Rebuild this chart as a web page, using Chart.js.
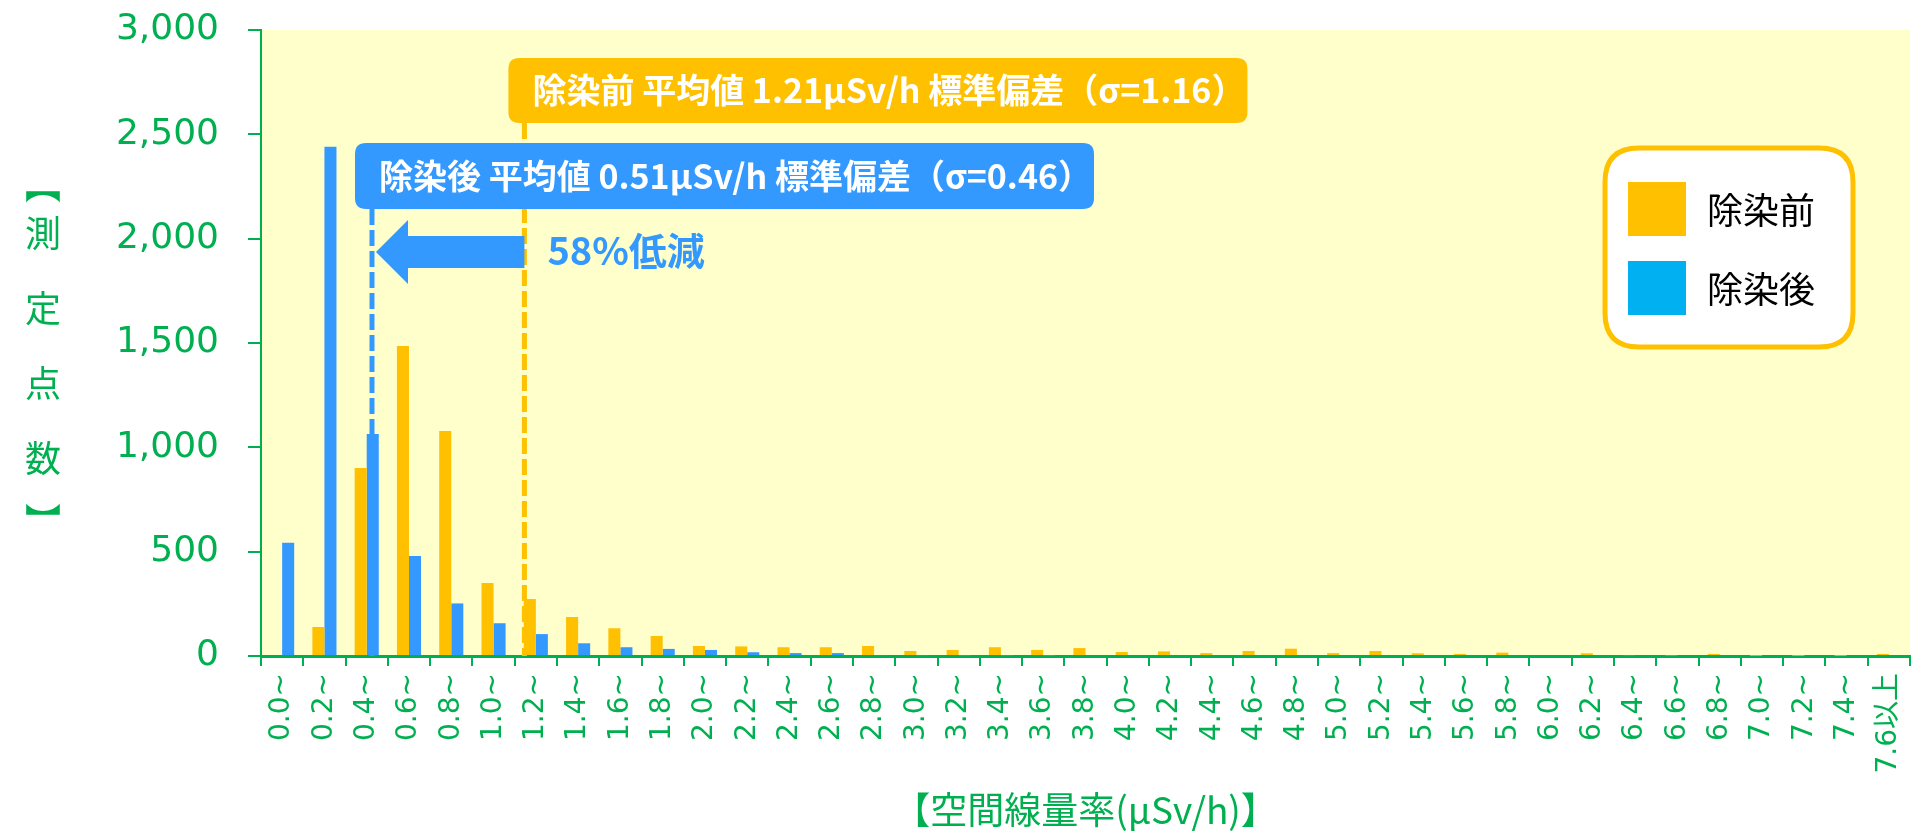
<!DOCTYPE html>
<html>
<head>
<meta charset="utf-8">
<script src="https://cdn.jsdelivr.net/npm/chart.js@4.4.1/dist/chart.umd.min.js"></script>
<style>
  html, body { margin: 0; padding: 0; background: #fff; }
</style>
</head>
<body>
<canvas id="myBarChart" width="1912" height="835"></canvas>
<script>
var categories = [
  "0.0~", "0.2~", "0.4~", "0.6~", "0.8~", "1.0~", "1.2~", "1.4~", "1.6~", "1.8~",
  "2.0~", "2.2~", "2.4~", "2.6~", "2.8~", "3.0~", "3.2~", "3.4~", "3.6~", "3.8~",
  "4.0~", "4.2~", "4.4~", "4.6~", "4.8~", "5.0~", "5.2~", "5.4~", "5.6~", "5.8~",
  "6.0~", "6.2~", "6.4~", "6.6~", "6.8~", "7.0~", "7.2~", "7.4~", "7.6以上"
];
var beforeValues = [
  0, 139, 901, 1486, 1078, 350, 273, 187, 133, 96,
  48, 46, 42, 42, 48, 24, 29, 42, 29, 38,
  19, 22, 14, 24, 35, 14, 24, 13, 10, 16,
  5, 13, 4, 3, 10, 1, 1, 1, 10
];
var afterValues = [
  543, 2440, 1064, 479, 252, 157, 105, 61, 42, 34,
  29, 18, 14, 14, 4, 3, 2, 2, 1, 0,
  0, 0, 0, 0, 0, 0, 0, 0, 0, 0,
  0, 0, 0, 0, 0, 0, 0, 0, 0
];
var seriesNames = ["除染前", "除染後"];
var yMax = 3000;
var yStep = 500;
var binWidth = 0.2; // μSv/h por categoría
var meanLabels = [
  "除染前 平均値 1.21μSv/h 標準偏差（σ=1.16）",
  "除染後 平均値 0.51μSv/h 標準偏差（σ=0.46）"
];
var meanMarks = [1.246, 0.525]; // donde caen las líneas punteadas
var reductionText = "58%低減";
var xTitle = "【空間線量率(μSv/h)】";
var yTitleChars = ["︻", "測", "定", "点", "数", "︼"];

var GREEN = "#00B050";
var ORANGE = "#FFC000";
var BLUE = "#3399FF";
var LEGEND_BLUE = "#00B0F0";
var CJK = "'Noto Sans CJK JP', 'DejaVu Sans', sans-serif";

function roundRect(ctx, x, y, w, h, r) {
  ctx.beginPath();
  ctx.moveTo(x + r, y);
  ctx.lineTo(x + w - r, y);
  ctx.quadraticCurveTo(x + w, y, x + w, y + r);
  ctx.lineTo(x + w, y + h - r);
  ctx.quadraticCurveTo(x + w, y + h, x + w - r, y + h);
  ctx.lineTo(x + r, y + h);
  ctx.quadraticCurveTo(x, y + h, x, y + h - r);
  ctx.lineTo(x, y + r);
  ctx.quadraticCurveTo(x, y, x + r, y);
  ctx.closePath();
}

function xForDose(chart, v) {
  var xs = chart.scales.x;
  var w = xs.getPixelForValue(1) - xs.getPixelForValue(0);
  return xs.getPixelForValue(0) - w / 2 + (v / binWidth) * w;
}

var plotBackground = {
  id: "plotBackground",
  beforeDraw: function (chart) {
    var ctx = chart.ctx, a = chart.chartArea;
    ctx.save();
    ctx.fillStyle = "#FFFFCC";
    ctx.fillRect(a.left, a.top, a.right - a.left, a.bottom - a.top);
    ctx.restore();
  }
};

var meanMarkers = {
  id: "meanMarkers",
  afterDatasetsDraw: function (chart) {
    var ctx = chart.ctx, a = chart.chartArea;
    var xBefore = xForDose(chart, meanMarks[0]);
    var xAfter = xForDose(chart, meanMarks[1]);
    var boxes = [
      { x: xBefore - 16, y: a.top + 28, h: 65, color: ORANGE, text: meanLabels[0], lx: xBefore },
      { x: xAfter - 17, y: a.top + 113, h: 66, color: BLUE, text: meanLabels[1], lx: xAfter }
    ];

    ctx.save();
    // lineas punteadas
    ctx.lineWidth = 5;
    ctx.setLineDash([16, 5]);
    boxes.forEach(function (b) {
      ctx.strokeStyle = b.color;
      ctx.beginPath();
      ctx.moveTo(b.lx, b.y + b.h);
      ctx.lineTo(b.lx, a.bottom);
      ctx.stroke();
    });
    ctx.setLineDash([]);

    // flecha
    var ay = a.top + 222;
    var tip = xAfter + 4;
    ctx.fillStyle = BLUE;
    ctx.beginPath();
    ctx.moveTo(tip, ay);
    ctx.lineTo(tip + 32, ay - 32);
    ctx.lineTo(tip + 32, ay - 16);
    ctx.lineTo(xBefore, ay - 16);
    ctx.lineTo(xBefore, ay + 16);
    ctx.lineTo(tip + 32, ay + 16);
    ctx.lineTo(tip + 32, ay + 32);
    ctx.closePath();
    ctx.fill();

    ctx.font = "bold 38px " + CJK;
    ctx.textAlign = "left";
    ctx.textBaseline = "middle";
    ctx.fillText(reductionText, xBefore + 23, ay - 1);

    // cajas
    ctx.font = "bold 34px " + CJK;
    boxes.forEach(function (b) {
      var w = ctx.measureText(b.text).width + 26;
      ctx.fillStyle = b.color;
      roundRect(ctx, b.x, b.y, w, b.h, 11);
      ctx.fill();
      ctx.fillStyle = "#FFFFFF";
      ctx.fillText(b.text, b.x + 24, b.y + b.h / 2);
    });
    ctx.restore();
  },
  afterDraw: function (chart) {
    var ctx = chart.ctx, a = chart.chartArea;
    ctx.save();

    // leyenda
    var lx = a.right - 305, ly = a.top + 118, lw = 248, lh = 199;
    ctx.fillStyle = "#FFFFFF";
    ctx.strokeStyle = ORANGE;
    ctx.lineWidth = 5;
    roundRect(ctx, lx, ly, lw, lh, 34);
    ctx.fill();
    ctx.stroke();
    var swatch = [ORANGE, LEGEND_BLUE];
    ctx.font = "36px " + CJK;
    ctx.textBaseline = "middle";
    ctx.textAlign = "left";
    chart.data.datasets.forEach(function (ds, i) {
      var sy = ly + 34 + i * 79;
      ctx.fillStyle = swatch[i];
      ctx.fillRect(lx + 23, sy, 58, 54);
      ctx.fillStyle = "#000000";
      ctx.fillText(ds.label, lx + 102, sy + 28);
    });

    // titulo eje y (vertical)
    ctx.fillStyle = GREEN;
    ctx.font = "36px " + CJK;
    ctx.textAlign = "center";
    var mid = (a.top + a.bottom) / 2;
    var offs = [-158, -110, -35, 40, 115, 178];
    yTitleChars.forEach(function (c, i) {
      ctx.fillText(c, 43, mid + offs[i]);
    });
    ctx.restore();
  }
};

new Chart(document.getElementById("myBarChart"), {
  type: "bar",
  data: {
    labels: categories,
    datasets: [
      {
        label: seriesNames[0],
        data: beforeValues,
        backgroundColor: ORANGE,
        borderWidth: 0,
        barPercentage: 1,
        categoryPercentage: 0.57
      },
      {
        label: seriesNames[1],
        data: afterValues,
        backgroundColor: BLUE,
        borderWidth: 0,
        barPercentage: 1,
        categoryPercentage: 0.57
      }
    ]
  },
  options: {
    responsive: false,
    animation: false,
    layout: { padding: { top: 30, right: 2, left: 0, bottom: 0 } },
    plugins: {
      legend: { display: false },
      tooltip: { enabled: false }
    },
    scales: {
      x: {
        afterFit: function (scale) {
          scale.height = 179;
          scale.paddingLeft = 0;
          scale.paddingRight = 0;
        },
        grid: {
          offset: true,
          drawOnChartArea: false,
          color: GREEN,
          lineWidth: 2,
          tickLength: 10
        },
        border: { color: GREEN, width: 3 },
        ticks: {
          color: GREEN,
          autoSkip: false,
          minRotation: 90,
          maxRotation: 90,
          padding: 7,
          font: { family: "'DejaVu Sans', 'Noto Sans CJK JP'", size: 28 }
        },
        title: {
          display: true,
          text: xTitle,
          color: GREEN,
          font: { family: CJK, size: 37 },
          padding: { top: 0, bottom: 3 }
        }
      },
      y: {
        min: 0,
        max: yMax,
        afterFit: function (scale) {
          scale.width = 261;
          scale.paddingTop = 0;
          scale.paddingBottom = 0;
        },
        grid: {
          drawOnChartArea: false,
          color: GREEN,
          lineWidth: 2,
          tickLength: 13
        },
        border: { color: GREEN, width: 2 },
        ticks: {
          stepSize: yStep,
          color: GREEN,
          padding: 29,
          font: { family: "'DejaVu Sans'", size: 36 },
          callback: function (value) {
            return value.toLocaleString("en-US");
          }
        }
      }
    }
  },
  plugins: [plotBackground, meanMarkers]
});
</script>
</body>
</html>
